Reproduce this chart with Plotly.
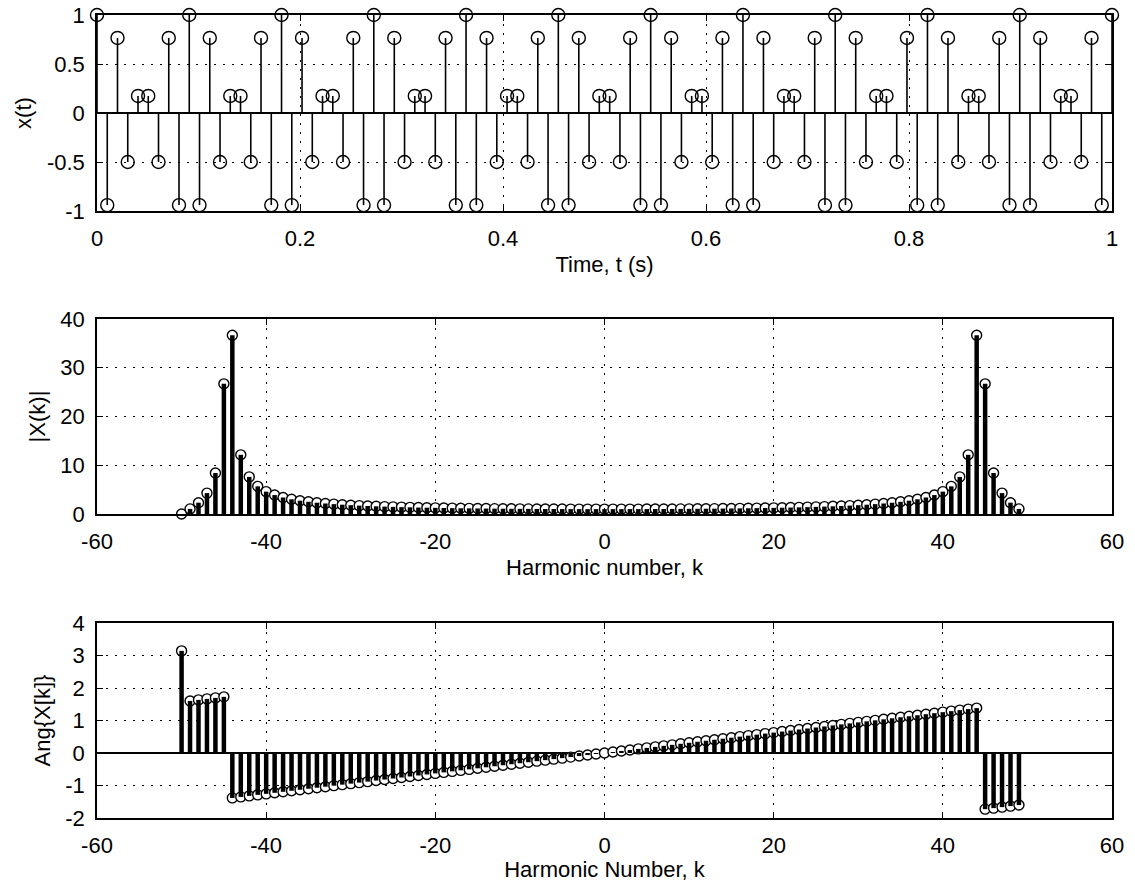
import plotly.graph_objects as go

# ---------------- data ----------------
time_s = [0.0000, 0.0101, 0.0202, 0.0303, 0.0404, 0.0505, 0.0606, 0.0707, 0.0808, 0.0909,
          0.1010, 0.1111, 0.1212, 0.1313, 0.1414, 0.1515, 0.1616, 0.1717, 0.1818, 0.1919,
          0.2020, 0.2121, 0.2222, 0.2323, 0.2424, 0.2525, 0.2626, 0.2727, 0.2828, 0.2929,
          0.3030, 0.3131, 0.3232, 0.3333, 0.3434, 0.3535, 0.3636, 0.3737, 0.3838, 0.3939,
          0.4040, 0.4141, 0.4242, 0.4343, 0.4444, 0.4545, 0.4646, 0.4747, 0.4848, 0.4949,
          0.5051, 0.5152, 0.5253, 0.5354, 0.5455, 0.5556, 0.5657, 0.5758, 0.5859, 0.5960,
          0.6061, 0.6162, 0.6263, 0.6364, 0.6465, 0.6566, 0.6667, 0.6768, 0.6869, 0.6970,
          0.7071, 0.7172, 0.7273, 0.7374, 0.7475, 0.7576, 0.7677, 0.7778, 0.7879, 0.7980,
          0.8081, 0.8182, 0.8283, 0.8384, 0.8485, 0.8586, 0.8687, 0.8788, 0.8889, 0.8990,
          0.9091, 0.9192, 0.9293, 0.9394, 0.9495, 0.9596, 0.9697, 0.9798, 0.9899, 1.0000]

x_signal = [1.000, -0.940, 0.766, -0.500, 0.174, 0.174, -0.500, 0.766, -0.940,
            1.000, -0.940, 0.766, -0.500, 0.174, 0.174, -0.500, 0.766, -0.940,
            1.000, -0.940, 0.766, -0.500, 0.174, 0.174, -0.500, 0.766, -0.940,
            1.000, -0.940, 0.766, -0.500, 0.174, 0.174, -0.500, 0.766, -0.940,
            1.000, -0.940, 0.766, -0.500, 0.174, 0.174, -0.500, 0.766, -0.940,
            1.000, -0.940, 0.766, -0.500, 0.174, 0.174, -0.500, 0.766, -0.940,
            1.000, -0.940, 0.766, -0.500, 0.174, 0.174, -0.500, 0.766, -0.940,
            1.000, -0.940, 0.766, -0.500, 0.174, 0.174, -0.500, 0.766, -0.940,
            1.000, -0.940, 0.766, -0.500, 0.174, 0.174, -0.500, 0.766, -0.940,
            1.000, -0.940, 0.766, -0.500, 0.174, 0.174, -0.500, 0.766, -0.940,
            1.000, -0.940, 0.766, -0.500, 0.174, 0.174, -0.500, 0.766, -0.940,
            1.000]

harmonic_k = [-50, -49, -48, -47, -46, -45, -44, -43, -42, -41,
              -40, -39, -38, -37, -36, -35, -34, -33, -32, -31,
              -30, -29, -28, -27, -26, -25, -24, -23, -22, -21,
              -20, -19, -18, -17, -16, -15, -14, -13, -12, -11,
              -10, -9, -8, -7, -6, -5, -4, -3, -2, -1,
              0, 1, 2, 3, 4, 5, 6, 7, 8, 9,
              10, 11, 12, 13, 14, 15, 16, 17, 18, 19,
              20, 21, 22, 23, 24, 25, 26, 27, 28, 29,
              30, 31, 32, 33, 34, 35, 36, 37, 38, 39,
              40, 41, 42, 43, 44, 45, 46, 47, 48, 49]

magnitude = [0.000, 1.045, 2.323, 4.286, 8.415, 26.702, 36.653, 12.137, 7.610, 5.675,
             4.587, 3.884, 3.389, 3.019, 2.732, 2.502, 2.314, 2.156, 2.022, 1.908,
             1.808, 1.721, 1.644, 1.575, 1.514, 1.460, 1.411, 1.366, 1.326, 1.290,
             1.257, 1.227, 1.199, 1.175, 1.152, 1.132, 1.113, 1.096, 1.081, 1.067,
             1.055, 1.044, 1.035, 1.026, 1.019, 1.013, 1.008, 1.005, 1.002, 1.001,
             1.000, 1.001, 1.002, 1.005, 1.008, 1.013, 1.019, 1.026, 1.035, 1.044,
             1.055, 1.067, 1.081, 1.096, 1.113, 1.132, 1.152, 1.175, 1.199, 1.227,
             1.257, 1.290, 1.326, 1.366, 1.411, 1.460, 1.514, 1.575, 1.644, 1.721,
             1.808, 1.908, 2.022, 2.156, 2.314, 2.502, 2.732, 3.019, 3.389, 3.884,
             4.587, 5.675, 7.610, 12.137, 36.653, 26.702, 8.415, 4.286, 2.323, 1.045]

phase = [3.142, 1.602, 1.634, 1.665, 1.696, 1.728, -1.382, -1.351, -1.319, -1.288,
         -1.257, -1.225, -1.194, -1.162, -1.131, -1.100, -1.068, -1.037, -1.005, -0.974,
         -0.942, -0.911, -0.880, -0.848, -0.817, -0.785, -0.754, -0.723, -0.691, -0.660,
         -0.628, -0.597, -0.565, -0.534, -0.503, -0.471, -0.440, -0.408, -0.377, -0.346,
         -0.314, -0.283, -0.251, -0.220, -0.188, -0.157, -0.126, -0.094, -0.063, -0.031,
         0.000, 0.031, 0.063, 0.094, 0.126, 0.157, 0.188, 0.220, 0.251, 0.283,
         0.314, 0.346, 0.377, 0.408, 0.440, 0.471, 0.503, 0.534, 0.565, 0.597,
         0.628, 0.660, 0.691, 0.723, 0.754, 0.785, 0.817, 0.848, 0.880, 0.911,
         0.942, 0.974, 1.005, 1.037, 1.068, 1.100, 1.131, 1.162, 1.194, 1.225,
         1.257, 1.288, 1.319, 1.351, 1.382, -1.728, -1.696, -1.665, -1.634, -1.602]

t_ticks = [0, 0.2, 0.4, 0.6, 0.8, 1]
t_ticktext = ["0", "0.2", "0.4", "0.6", "0.8", "1"]
x_ticks = [-1, -0.5, 0, 0.5, 1]
x_ticktext = ["-1", "-0.5", "0", "0.5", "1"]
k_ticks = [-60, -40, -20, 0, 20, 40, 60]
k_ticktext = ["-60", "-40", "-20", "0", "20", "40", "60"]
mag_ticks = [0, 10, 20, 30, 40]
mag_ticktext = ["0", "10", "20", "30", "40"]
ph_ticks = [-2, -1, 0, 1, 2, 3, 4]
ph_ticktext = ["-2", "-1", "0", "1", "2", "3", "4"]


def stems(xs, ys):
    sx, sy = [], []
    for a, b in zip(xs, ys):
        sx += [a, a, None]
        sy += [0, b, None]
    return sx, sy


FONT = "Liberation Sans, Arial, Helvetica, sans-serif"
FS = 22
W, H = 1135, 882

fig = go.Figure()

# top: time signal
sx, sy = stems(time_s, x_signal)
fig.add_trace(go.Scatter(x=sx, y=sy, mode="lines", line=dict(color="black", width=1.6),
                         xaxis="x", yaxis="y", showlegend=False, hoverinfo="skip", cliponaxis=False))
fig.add_trace(go.Scatter(x=time_s, y=x_signal, mode="markers",
                         marker=dict(symbol="circle-open", size=13, color="black", line=dict(width=1.4)),
                         xaxis="x", yaxis="y", showlegend=False, cliponaxis=False))

# middle: magnitude (markers first, thick stems on top)
fig.add_trace(go.Scatter(x=harmonic_k, y=magnitude, mode="markers",
                         marker=dict(symbol="circle", size=10, color="white",
                                     line=dict(width=1.4, color="black")),
                         xaxis="x2", yaxis="y2", showlegend=False, cliponaxis=False))
sx, sy = stems(harmonic_k, magnitude)
fig.add_trace(go.Scatter(x=sx, y=sy, mode="lines", line=dict(color="black", width=4.5),
                         xaxis="x2", yaxis="y2", showlegend=False, hoverinfo="skip", cliponaxis=False))

# bottom: phase
fig.add_trace(go.Scatter(x=harmonic_k, y=phase, mode="markers",
                         marker=dict(symbol="circle", size=10, color="white",
                                     line=dict(width=1.4, color="black")),
                         xaxis="x3", yaxis="y3", showlegend=False, cliponaxis=False))
sx, sy = stems(harmonic_k, phase)
fig.add_trace(go.Scatter(x=sx, y=sy, mode="lines", line=dict(color="black", width=4.5),
                         xaxis="x3", yaxis="y3", showlegend=False, hoverinfo="skip", cliponaxis=False))

xdom = [97 / W, 1112 / W]


def ydom(top, bottom):
    return [1 - bottom / H, 1 - top / H]


common = dict(showline=True, linecolor="black", linewidth=1.5, mirror="ticks",
              ticks="inside", ticklen=6, tickcolor="black", tickwidth=1,
              showgrid=True, gridcolor="black", gridwidth=1, griddash="2px,7px",
              zeroline=False, tickfont=dict(family=FONT, size=FS, color="black"),
              tickmode="array", automargin=False)

fig.update_layout(
    width=W, height=H, margin=dict(l=0, r=0, t=0, b=0),
    paper_bgcolor="white", plot_bgcolor="white",
    font=dict(family=FONT, size=FS, color="black"),
    xaxis=dict(domain=xdom, anchor="y", range=[0, 1], tickvals=t_ticks, ticktext=t_ticktext,
               ticklabelstandoff=7,
               title=dict(text="Time, t (s)", font=dict(size=FS), standoff=6), **common),
    yaxis=dict(domain=ydom(15, 211), anchor="x", range=[-1, 1], tickvals=x_ticks, ticktext=x_ticktext,
               ticklabelstandoff=6,
               title=dict(text="x(t)", font=dict(size=FS), standoff=9), **common),
    xaxis2=dict(domain=xdom, anchor="y2", range=[-60, 60], tickvals=k_ticks, ticktext=k_ticktext,
                ticklabelstandoff=7,
                title=dict(text="Harmonic number, k", font=dict(size=FS), standoff=6), **common),
    yaxis2=dict(domain=ydom(319, 514), anchor="x2", range=[0, 40], tickvals=mag_ticks, ticktext=mag_ticktext,
                ticklabelstandoff=6,
                title=dict(text="|X(k)|", font=dict(size=FS), standoff=9), **common),
    xaxis3=dict(domain=xdom, anchor="y3", range=[-60, 60], tickvals=k_ticks, ticktext=k_ticktext,
                ticklabelstandoff=7,
                title=dict(text="Harmonic Number, k", font=dict(size=FS), standoff=6), **common),
    yaxis3=dict(domain=ydom(623, 818), anchor="x3", range=[-2, 4], tickvals=ph_ticks, ticktext=ph_ticktext,
                ticklabelstandoff=6,
                title=dict(text="Ang{X[k]}", font=dict(size=FS), standoff=9), **common),
)

# solid zero baselines (stem baselines)
fig.update_yaxes(selector=dict(anchor="x"), zeroline=True, zerolinecolor="black", zerolinewidth=1.5)
fig.update_yaxes(selector=dict(anchor="x3"), zeroline=True, zerolinecolor="black", zerolinewidth=1.5)

fig.write_html("out.html", config={"displayModeBar": False},
               post_script="document.body.style.margin='0px';document.body.style.overflow='hidden';")
